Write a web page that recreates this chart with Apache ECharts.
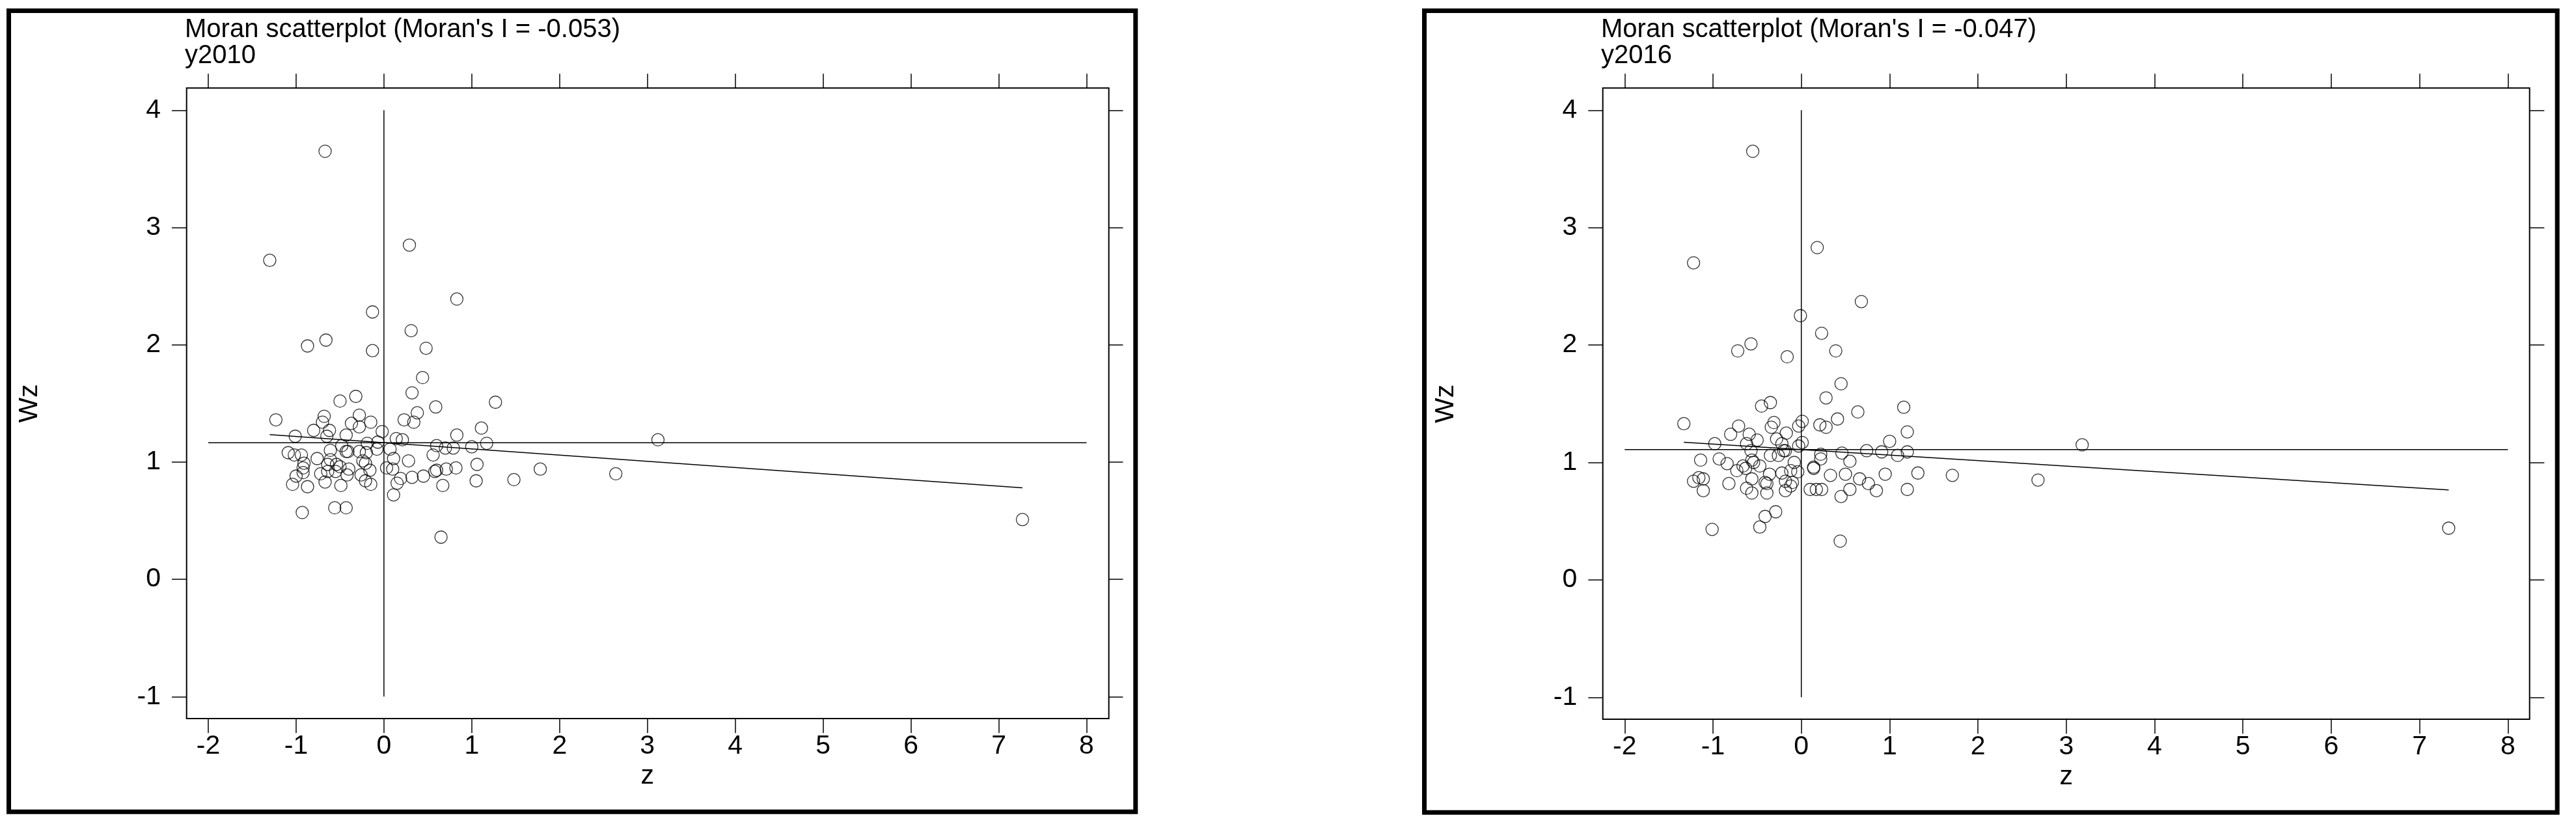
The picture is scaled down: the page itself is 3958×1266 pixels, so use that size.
<!DOCTYPE html>
<html>
<head>
<meta charset="utf-8">
<script src="https://cdn.jsdelivr.net/npm/echarts@6/dist/echarts.min.js"></script>
<style>
html,body{margin:0;padding:0;background:#fff;}
#chart{width:3958px;height:1266px;}
</style>
</head>
<body>
<div id="chart"></div>
<script>
// ---- data ----
const zTicks = [-2, -1, 0, 1, 2, 3, 4, 5, 6, 7, 8];
const wzTicks = [-1, 0, 1, 2, 3, 4];

const moranI2010 = -0.053;
const meanWz2010 = 1.165;
const z2010 = [-1.30,0.29,0.83,-0.13,0.31,-0.66,-0.87,-0.13,0.48,0.44,0.32,-0.32,-0.50,1.27,0.59,-1.23,0.38,-0.68,-0.28,0.23,0.34,-0.70,-0.37,-0.15,-0.28,-0.80,-0.62,-0.02,1.11,0.83,-1.01,-0.65,-0.43,0.14,0.21,1.17,-0.19,-0.07,1.00,0.60,0.70,0.79,-1.09,-1.02,-0.94,-0.48,-0.43,-0.41,-0.61,-0.28,-0.20,-0.08,0.07,0.56,-0.76,-0.61,-0.54,-0.64,-0.50,-0.91,-0.24,-0.21,0.11,0.28,1.06,-0.92,-0.64,-0.40,-0.16,0.03,0.10,0.60,0.71,0.82,1.78,-0.72,-0.55,-0.42,-0.26,-1.00,-0.92,-0.67,-0.21,0.19,0.32,0.45,0.58,1.05,1.48,-1.04,-0.87,-0.49,-0.15,0.15,0.67,0.11,-0.93,-0.56,-0.43,0.65,2.64,3.12,7.27,-0.67];
const wz2010 = [2.72,2.85,2.39,2.28,2.12,2.04,1.99,1.95,1.97,1.72,1.59,1.56,1.52,1.51,1.47,1.36,1.42,1.39,1.40,1.36,1.34,1.34,1.33,1.34,1.30,1.27,1.27,1.26,1.29,1.23,1.22,1.22,1.23,1.20,1.19,1.16,1.16,1.17,1.13,1.14,1.12,1.12,1.08,1.06,1.06,1.14,1.09,1.09,1.10,1.09,1.08,1.11,1.11,1.06,1.03,1.02,0.98,0.98,0.96,0.99,1.01,0.99,1.03,1.01,0.98,0.95,0.92,0.94,0.93,0.95,0.94,0.93,0.94,0.95,0.94,0.90,0.92,0.89,0.89,0.88,0.91,0.83,0.84,0.86,0.87,0.88,0.92,0.84,0.85,0.81,0.79,0.80,0.81,0.82,0.80,0.72,0.57,0.61,0.61,0.36,0.90,1.19,0.51,3.65];

const moranI2016 = -0.047;
const meanWz2016 = 1.110;
const z2016 = [-1.22,0.18,0.68,-0.01,0.23,-0.57,-0.72,-0.16,0.39,0.45,0.28,-0.35,-0.45,1.16,0.64,-1.33,0.41,-0.31,-0.71,-0.34,-0.03,0.01,0.21,0.28,-0.80,-0.59,-0.17,1.20,-0.50,-0.28,-0.98,-0.62,-0.22,0.01,-0.03,1.00,-0.20,-0.18,-0.35,-0.26,-0.57,-0.56,-0.54,-0.93,-0.84,-1.14,0.22,0.22,0.46,0.55,0.74,0.91,1.09,1.20,-0.08,-0.73,-0.66,-0.63,-0.47,-0.36,-0.22,-0.12,-0.04,0.14,0.14,0.33,0.50,0.66,0.95,1.32,1.71,-1.22,-1.16,-1.11,-1.11,-0.82,-0.56,-0.41,-0.39,-0.18,-0.10,-0.62,-0.56,-0.39,-0.18,-0.12,0.10,0.17,0.23,0.55,0.76,0.85,1.20,0.45,-0.29,-0.41,-0.47,-1.01,0.44,2.68,3.18,7.33,-0.55];
const wz2016 = [2.70,2.83,2.37,2.25,2.10,2.01,1.95,1.90,1.95,1.67,1.55,1.51,1.48,1.47,1.43,1.33,1.37,1.34,1.31,1.30,1.31,1.35,1.32,1.30,1.24,1.24,1.25,1.26,1.19,1.20,1.16,1.16,1.16,1.17,1.14,1.18,1.10,1.10,1.06,1.06,1.10,1.02,1.00,1.03,0.99,1.02,1.07,1.03,1.08,1.01,1.10,1.09,1.06,1.09,1.00,0.93,0.97,0.95,0.97,0.90,0.91,0.93,0.92,0.96,0.95,0.89,0.90,0.86,0.90,0.91,0.89,0.84,0.87,0.86,0.76,0.82,0.86,0.83,0.82,0.84,0.83,0.78,0.74,0.74,0.76,0.80,0.77,0.77,0.77,0.77,0.82,0.76,0.77,0.71,0.58,0.54,0.45,0.43,0.33,0.85,1.15,0.44,3.65];

// ---- layout ----
const FONT = "'Liberation Sans', Arial, sans-serif";
const panels = [
  {year: '2010', z: z2010, wz: wz2010, I: moranI2010, mean: meanWz2010,
   inner: {left: 320, top: 169.3, width: 1349.5, height: 901},
   box: {left: 286.7, top: 135.3, width: 1417, height: 968.7},
   frame: {x: 13.5, y: 16.5, width: 1731.3, height: 1230.7},
   titleLeft: 284},
  {year: '2016', z: z2016, wz: wz2016, I: moranI2016, mean: meanWz2016,
   inner: {left: 2496.3, top: 169.3, width: 1357, height: 902},
   box: {left: 2462.7, top: 135.3, width: 1424, height: 969.7},
   frame: {x: 2188.5, y: 16.5, width: 1740.7, height: 1231.7},
   titleLeft: 2460}
];

const zMin = zTicks[0], zMax = zTicks[zTicks.length - 1];
const wMin = wzTicks[0], wMax = wzTicks[wzTicks.length - 1];

const option = {
  backgroundColor: '#ffffff',
  animation: false,
  textStyle: {fontFamily: FONT, color: '#000'},
  title: [], grid: [], xAxis: [], yAxis: [], series: [], graphic: []
};

const tickStyle = {show: true, length: 22, inside: false, lineStyle: {color: '#000', width: 1.5}};
const labelStyle = {fontSize: 41, color: '#000', fontFamily: FONT};
const noLine = {show: false, onZero: false};

panels.forEach((p, i) => {
  const gInner = i * 2, gBox = i * 2 + 1;
  option.title.push({
    text: "Moran scatterplot (Moran's I = " + p.I.toFixed(3) + ")\ny" + p.year,
    left: p.titleLeft, top: 26, padding: 0,
    textStyle: {fontSize: 40, lineHeight: 40, fontWeight: 'normal', color: '#000', fontFamily: FONT}
  });
  option.grid.push({left: p.inner.left, top: p.inner.top, width: p.inner.width, height: p.inner.height, show: false, containLabel: false});
  option.grid.push({left: p.box.left, top: p.box.top, width: p.box.width, height: p.box.height, show: true,
                    borderColor: '#000', borderWidth: 2, backgroundColor: 'transparent'});

  const xi = option.xAxis.length;
  option.xAxis.push({
    type: 'value', gridIndex: gInner, position: 'bottom', offset: 34,
    min: zMin, max: zMax, interval: 1,
    axisLine: noLine, axisTick: tickStyle, splitLine: {show: false},
    axisLabel: Object.assign({margin: 22}, labelStyle),
    name: 'z', nameLocation: 'middle', nameGap: 62,
    nameTextStyle: {fontSize: 41, color: '#000', fontFamily: FONT}
  });
  option.xAxis.push({
    type: 'value', gridIndex: gInner, position: 'top', offset: 34,
    min: zMin, max: zMax, interval: 1,
    axisLine: noLine, axisTick: tickStyle, splitLine: {show: false},
    axisLabel: {show: false}
  });
  option.xAxis.push({type: 'value', gridIndex: gBox, show: false, min: 0, max: 1});

  const yi = option.yAxis.length;
  option.yAxis.push({
    type: 'value', gridIndex: gInner, position: 'left', offset: 34,
    min: wMin, max: wMax, interval: 1,
    axisLine: noLine, axisTick: tickStyle, splitLine: {show: false},
    axisLabel: Object.assign({margin: 39}, labelStyle),
    name: 'Wz', nameLocation: 'middle', nameGap: 220, nameRotate: 90,
    nameTextStyle: {fontSize: 41, color: '#000', fontFamily: FONT}
  });
  option.yAxis.push({
    type: 'value', gridIndex: gInner, position: 'right', offset: 34,
    min: wMin, max: wMax, interval: 1,
    axisLine: noLine, axisTick: tickStyle, splitLine: {show: false},
    axisLabel: {show: false}
  });
  option.yAxis.push({type: 'value', gridIndex: gBox, show: false, min: 0, max: 1});

  const lineCommon = {type: 'line', xAxisIndex: xi, yAxisIndex: yi, symbol: 'none', silent: true,
                      lineStyle: {color: '#000', width: 1.5}, z: 2};
  // vertical reference at z = 0
  option.series.push(Object.assign({}, lineCommon, {data: [[0, wMin], [0, wMax]]}));
  // horizontal reference at mean of Wz
  option.series.push(Object.assign({}, lineCommon, {data: [[zMin, p.mean], [zMax, p.mean]]}));
  // fitted line, slope = Moran's I
  const lo = Math.min.apply(null, p.z), hi = Math.max.apply(null, p.z);
  option.series.push(Object.assign({}, lineCommon, {data: [[lo, p.mean + p.I * lo], [hi, p.mean + p.I * hi]]}));
  // points
  option.series.push({
    type: 'scatter', xAxisIndex: xi, yAxisIndex: yi, symbol: 'circle', symbolSize: 19,
    itemStyle: {color: 'rgba(0,0,0,0)', borderColor: '#000', borderWidth: 1.3},
    data: p.z.map((v, k) => [v, p.wz[k]]), z: 3, silent: true
  });

  option.graphic.push({
    type: 'rect', silent: true,
    shape: {x: p.frame.x, y: p.frame.y, width: p.frame.width, height: p.frame.height},
    style: {fill: 'none', stroke: '#000', lineWidth: 7}
  });
});

const chart = echarts.init(document.getElementById('chart'), null, {renderer: 'canvas'});
chart.setOption(option);
</script>
</body>
</html>
